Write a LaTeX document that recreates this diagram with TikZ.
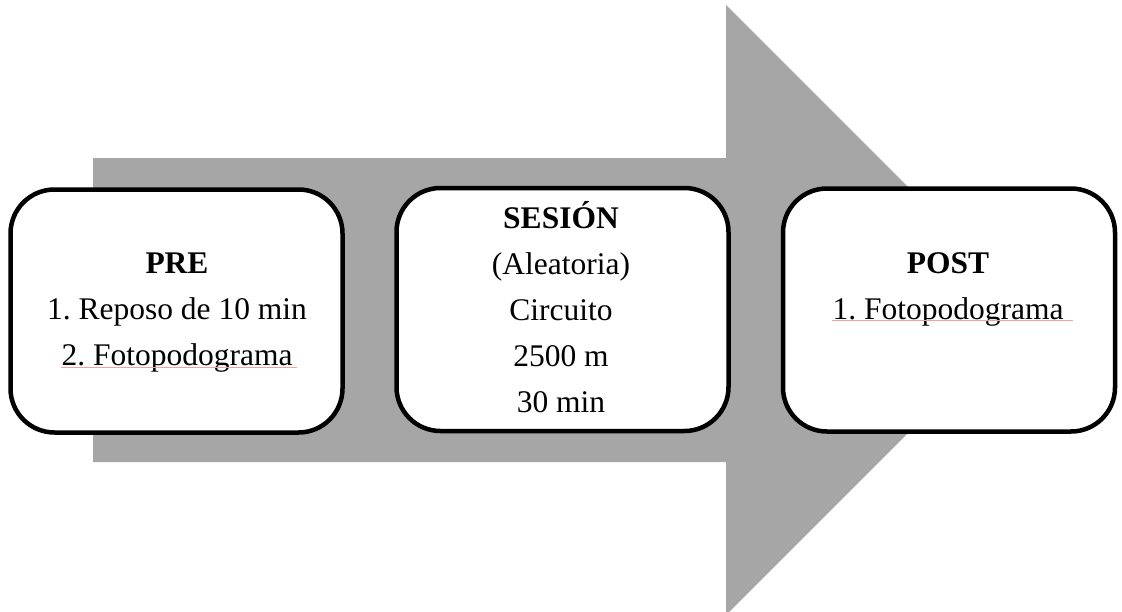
\documentclass[tikz,border=0pt]{standalone}
\usepackage{fontspec}
\setmainfont{Liberation Serif}
\frenchspacing
\definecolor{arrowgray}{HTML}{A6A6A6}
\definecolor{squig}{HTML}{F2A0A0}
\begin{document}
\begin{tikzpicture}[x=1pt,y=-1pt,
  stage/.style={draw=black,line width=4.5pt,fill=white,rounded corners=44pt,
    minimum width=332pt,minimum height=243pt,inner sep=0pt},
  txt/.style={anchor=base,inner sep=0pt,font=\fontsize{31.5}{38}\selectfont},
  hd/.style={anchor=base,inner sep=0pt,font=\fontsize{31.5}{38}\selectfont\bfseries},
  spell/.style={draw=squig,line width=1pt}]
\useasboundingbox (0,0) rectangle (1122,611);
\clip (0,0) rectangle (1122,611);
% big arrow
\fill[arrowgray] (93,158) -- (726,158) -- (726,5) -- (1031,310) -- (726,615)
  -- (726,462) -- (93,462) -- cycle;
% boxes
\node[stage] (pre) at (176.5,311) {};
\node[stage] (ses) at (562.5,309.5) {};
\node[stage] (post) at (949,310) {};
% PRE text
\node[hd]  (pre1) at (177,273) {PRE};
\node[txt] (pre2) at (177,319.5) {1. Reposo de 10 min};
\node[txt] (pre3) at (177,365.5) {2. Fotopodograma};
% SESION text
\node[hd]  (ses1) at (561,228) {SESIÓN};
\node[txt] (ses2) at (561,274) {(Aleatoria)};
\node[txt] (ses3) at (561,320) {Circuito};
\node[txt] (ses4) at (561,366) {2500 m};
\node[txt] (ses5) at (561,412) {30 min};
% POST text
\node[hd]  (post1) at (948,273) {POST};
\node[txt] (post2) at (948,319) {1. Fotopodograma};
% spelling underlines
\draw[spell] ([yshift=-1.5pt]pre3.base west) -- ([xshift=4pt,yshift=-1.5pt]pre3.base east);
\draw[spell] ([yshift=-1.5pt]post2.base west) -- ([xshift=9pt,yshift=-1.5pt]post2.base east);
\end{tikzpicture}
\end{document}
